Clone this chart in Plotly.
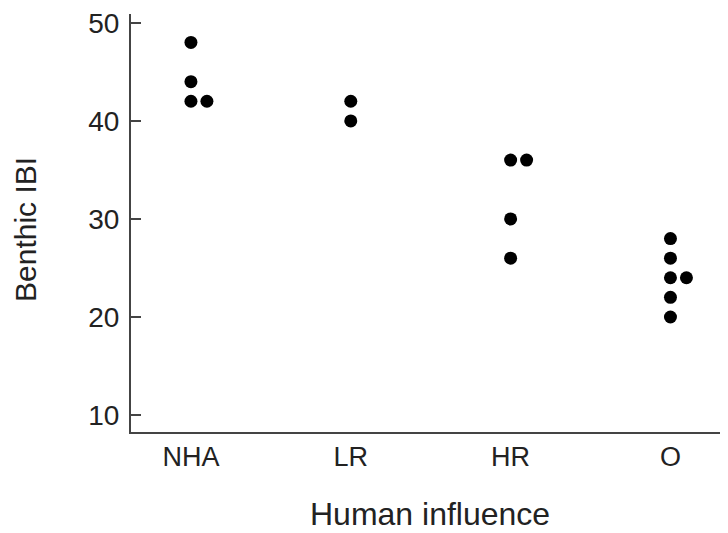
import plotly.graph_objects as go

categories = ["NHA", "LR", "HR", "O"]
group = ["NHA", "NHA", "NHA", "NHA", "LR", "LR", "HR", "HR", "HR", "HR",
         "O", "O", "O", "O", "O", "O"]
ibi = [48, 44, 42, 42, 42, 40, 36, 36, 30, 26, 28, 26, 24, 24, 22, 20]
offset = [0, 0, 0, 1, 0, 0, 0, 1, 0, 0, 0, 0, 0, 1, 0, 0]  # stacking slot for tied values
y_ticks = [10, 20, 30, 40, 50]

SLOT = 0.1
xpos = [categories.index(g) + o * SLOT for g, o in zip(group, offset)]

# page body has an 8px default margin; figure sized so the plot fills the window
W, H = 720, 525
L, R, T, B = 123, 0, 6, 101
pw, ph = W - L - R, H - T - B


def px_to_paper(px, py):
    """page pixel -> paper coords (accounting for 8px body margin)"""
    fx, fy = px - 8, py - 8
    return (fx - L) / pw, (H - B - fy) / ph


fig = go.Figure()
fig.add_trace(go.Scatter(
    x=xpos, y=ibi, mode="markers",
    marker=dict(size=13, color="black", line=dict(width=0)),
    showlegend=False, hoverinfo="y",
))

font_family = "Liberation Sans, Arial, sans-serif"
xt_x, xt_y = px_to_paper(430, 514)
yt_x, yt_y = px_to_paper(26, 229)
fig.update_layout(
    width=W, height=H,
    margin=dict(l=L, r=R, t=T, b=B, pad=0),
    paper_bgcolor="white", plot_bgcolor="white",
    font=dict(family=font_family, color="#222", size=27),
    xaxis=dict(
        range=[-0.375, 3.36],
        tickvals=list(range(len(categories))), ticktext=categories,
        showgrid=False, zeroline=False,
        showline=True, linecolor="#444", linewidth=2,
        ticks="", ticklabelstandoff=0,
        tickfont=dict(size=27),
    ),
    yaxis=dict(
        range=[8.27, 50.9],
        tickvals=y_ticks,
        showgrid=False, zeroline=False,
        showline=True, linecolor="#444", linewidth=2,
        ticks="inside", ticklen=10, tickwidth=2, tickcolor="#444",
        ticklabelstandoff=4, ticklabeloverflow="allow",
        tickfont=dict(size=28),
    ),
    annotations=[
        dict(text="Human influence", x=xt_x, y=xt_y, xref="paper", yref="paper",
             xanchor="center", yanchor="middle", showarrow=False,
             font=dict(size=32)),
        dict(text="Benthic IBI", textangle=-90, x=yt_x, y=yt_y,
             xref="paper", yref="paper", xanchor="center", yanchor="middle",
             showarrow=False, font=dict(size=30)),
    ],
)

fig.write_html("out.html")
